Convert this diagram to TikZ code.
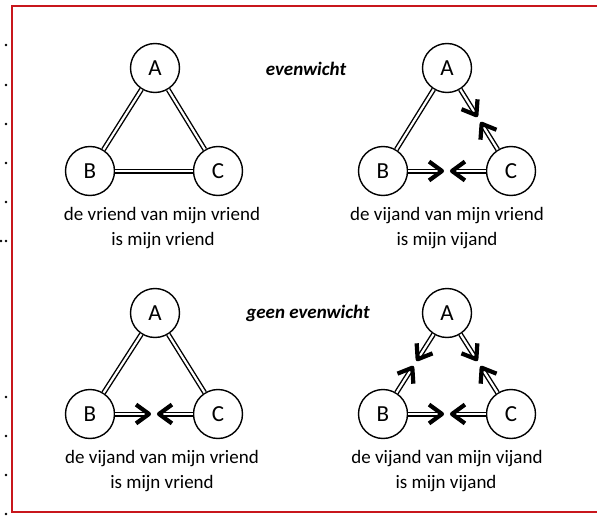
\documentclass[tikz,border=0pt]{standalone}
\usepackage{fontspec}
\setmainfont{Carlito}
\usetikzlibrary{calc}
\definecolor{frame}{RGB}{200,22,28}
\tikzset{
  pnode/.style={draw, circle, minimum size=49pt, inner sep=0pt, line width=1.4pt, font=\fontsize{23}{26}\selectfont},
  friend/.style={double, double distance=2.2pt, line width=1.4pt},
  chev/.style={line width=4.2pt, line join=round},
  captxt/.style={anchor=base, inner sep=0pt, font=\fontsize{19}{23}\selectfont},
  ttl/.style={anchor=base, inner sep=0pt, font=\fontsize{19}{23}\selectfont\bfseries\itshape},
  dotmark/.style={fill=black, circle, inner sep=0pt, minimum size=2.6pt}
}
\newcommand{\foe}[2]{%
  \coordinate (fm) at ($(#1)!0.5!(#2)$);
  \coordinate (ft) at ($(fm)!5pt!(#1)$);
  \draw[friend] (#1) -- ($(ft)!3pt!(#1)$);
  \draw[chev] ($(ft)!16pt!36:(#1)$) -- (ft) -- ($(ft)!16pt!-36:(#1)$);
}
\begin{document}
\begin{tikzpicture}[x=1pt,y=-1pt]
\useasboundingbox (0,0) rectangle (597,516);
% frame
\draw[frame, line width=2pt] (597,6) -- (12,6) -- (12,512) -- (597,512);
% left dots
\foreach \yy in {45,85,124,163,202,241,397,436,475,514}
  \node[dotmark] at (6,\yy) {};
\node[dotmark] at (1,241) {};
% titles
\node[ttl] (t1) at (306,76) {evenwicht};
\node[ttl] (t2) at (308,318) {geen evenwicht};
% diagram 1
\node[pnode] (A1) at (155,68) {A};
\node[pnode] (B1) at (90,171) {B};
\node[pnode] (C1) at (218,171) {C};
\draw[friend] (A1) -- (B1);
\draw[friend] (A1) -- (C1);
\draw[friend] (B1) -- (C1);
\node[captxt] (c1a) at (162,220) {de vriend van mijn vriend};
\node[captxt] (c1b) at (163,245) {is mijn vriend};
% diagram 2
\node[pnode] (A2) at (447,68) {A};
\node[pnode] (B2) at (383,171) {B};
\node[pnode] (C2) at (511,171) {C};
\draw[friend] (A2) -- (B2);
\foe{A2}{C2}
\foe{C2}{A2}
\foe{B2}{C2}
\foe{C2}{B2}
\node[captxt] (c2a) at (447,220) {de vijand van mijn vriend};
\node[captxt] (c2b) at (447,245) {is mijn vijand};
% diagram 3
\node[pnode] (A3) at (155,313) {A};
\node[pnode] (B3) at (90,414) {B};
\node[pnode] (C3) at (218,414) {C};
\draw[friend] (A3) -- (B3);
\draw[friend] (A3) -- (C3);
\foe{B3}{C3}
\foe{C3}{B3}
\node[captxt] (c3a) at (162,463) {de vijand van mijn vriend};
\node[captxt] (c3b) at (162,488) {is mijn vriend};
% diagram 4
\node[pnode] (A4) at (447,313) {A};
\node[pnode] (B4) at (383,414) {B};
\node[pnode] (C4) at (511,414) {C};
\foe{A4}{B4}
\foe{B4}{A4}
\foe{A4}{C4}
\foe{C4}{A4}
\foe{B4}{C4}
\foe{C4}{B4}
\node[captxt] (c4a) at (447,463) {de vijand van mijn vijand};
\node[captxt] (c4b) at (446,488) {is mijn vijand};
\end{tikzpicture}
\end{document}
